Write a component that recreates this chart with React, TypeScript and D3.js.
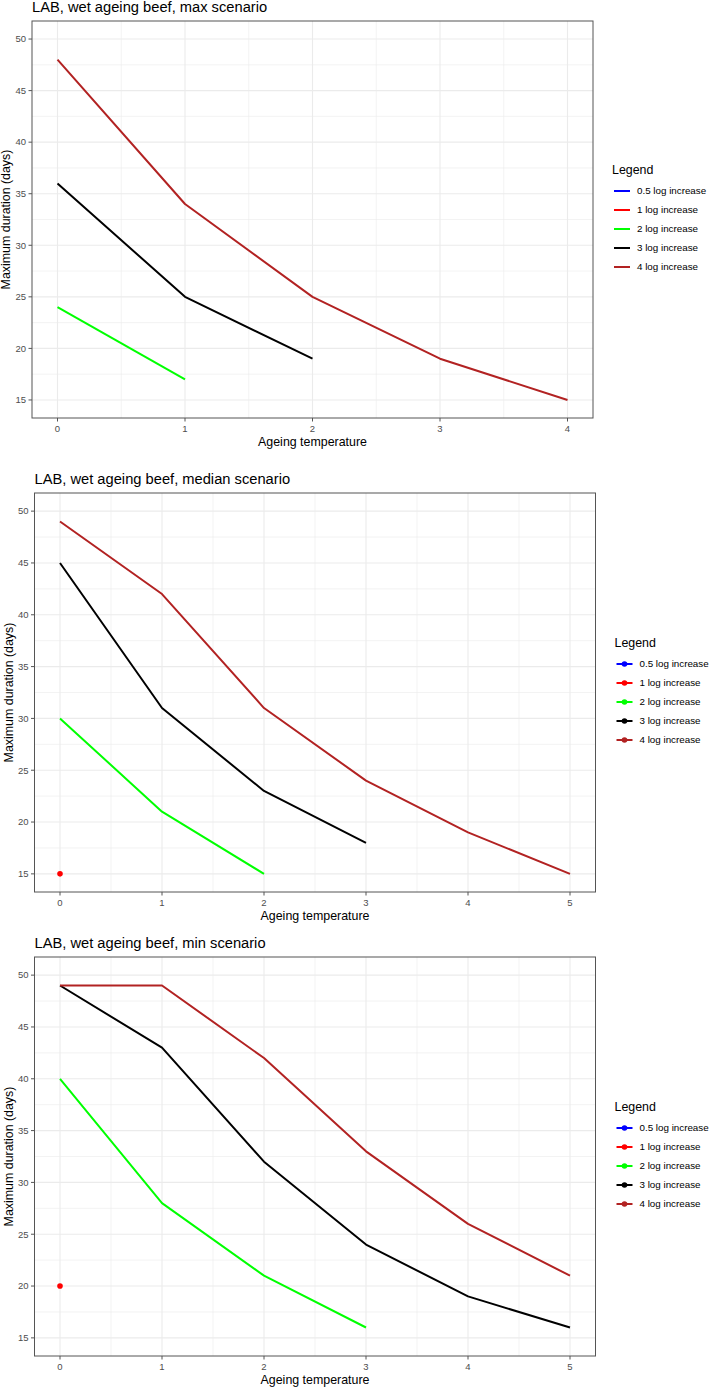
import React from 'react';
import * as d3 from 'd3';

// series names and colours, shared by all three panels
const seriesNames = ['0.5 log increase', '1 log increase', '2 log increase', '3 log increase', '4 log increase'];
const seriesColors = ['#0000FF', '#FF0000', '#00FF00', '#000000', '#B22222'];

// values by ageing temperature 0, 1, 2, ...
const maxLog05: number[] = [];
const maxLog1: number[] = [];
const maxLog2 = [24, 17];
const maxLog3 = [36, 25, 19];
const maxLog4 = [48, 34, 25, 19, 15];

const medianLog05: number[] = [];
const medianLog1 = [15];
const medianLog2 = [30, 21, 15];
const medianLog3 = [45, 31, 23, 18];
const medianLog4 = [49, 42, 31, 24, 19, 15];

const minLog05: number[] = [];
const minLog1 = [20];
const minLog2 = [40, 28, 21, 16];
const minLog3 = [49, 43, 32, 24, 19, 16];
const minLog4 = [49, 49, 42, 33, 26, 21];

const yTicks = [15, 20, 25, 30, 35, 40, 45, 50];

const FONT = '"Liberation Sans", Arial, sans-serif';

interface PanelProps {
  title: string;
  series: number[][];
  xMax: number;
  showPoints: boolean;
  left: number;
  right: number;
  top: number;
  bottom: number;
}

const Panel: React.FC<PanelProps> = ({ title, series, xMax, showPoints, left, right, top, bottom }) => {
  const xPad = xMax * 0.05;
  const x = d3.scaleLinear().domain([-xPad, xMax + xPad]).range([left, right]);
  const y = d3.scaleLinear().domain([13.25, 51.75]).range([bottom, top]);
  const xTicks = d3.range(0, xMax + 1);
  const xMinor = d3.range(0.5, xMax, 1);
  const yMinor = d3.range(17.5, 50, 5);
  const line = d3.line<number>().x((_, i) => x(i)).y(d => y(d));

  const midY = (top + bottom) / 2;
  const legendStart = midY + 9.5 - 2 * 19;

  return (
    <g>
      <text x={left} y={top - 9.5} fontSize="14.7px" fill="#000">{title}</text>

      {/* grid */}
      {xMinor.map(v => (
        <line key={`xm${v}`} x1={x(v)} x2={x(v)} y1={top} y2={bottom} stroke="#EBEBEB" strokeWidth={0.6} />
      ))}
      {yMinor.map(v => (
        <line key={`ym${v}`} x1={left} x2={right} y1={y(v)} y2={y(v)} stroke="#EBEBEB" strokeWidth={0.6} />
      ))}
      {xTicks.map(v => (
        <line key={`xg${v}`} x1={x(v)} x2={x(v)} y1={top} y2={bottom} stroke="#EBEBEB" strokeWidth={1.1} />
      ))}
      {yTicks.map(v => (
        <line key={`yg${v}`} x1={left} x2={right} y1={y(v)} y2={y(v)} stroke="#EBEBEB" strokeWidth={1.1} />
      ))}

      {/* lines */}
      {series.map((vals, i) =>
        vals.length > 1 ? (
          <path key={`l${i}`} d={line(vals) || ''} fill="none" stroke={seriesColors[i]} strokeWidth={2} strokeLinejoin="round" />
        ) : null
      )}
      {showPoints && series.map((vals, i) =>
        vals.length === 1 ? (
          <circle key={`p${i}`} cx={x(0)} cy={y(vals[0])} r={2.8} fill={seriesColors[i]} />
        ) : null
      )}

      {/* border */}
      <rect x={left} y={top} width={right - left} height={bottom - top} fill="none" stroke="#555" strokeWidth={1} />

      {/* x axis */}
      {xTicks.map(v => (
        <g key={`xt${v}`}>
          <line x1={x(v)} x2={x(v)} y1={bottom} y2={bottom + 3.5} stroke="#555" />
          <text x={x(v)} y={bottom + 14} textAnchor="middle" fontSize="9.5px" fill="#4D4D4D">{v}</text>
        </g>
      ))}
      <text x={(left + right) / 2} y={bottom + 28} textAnchor="middle" fontSize="12.4px" fill="#000">Ageing temperature</text>

      {/* y axis */}
      {yTicks.map(v => (
        <g key={`yt${v}`}>
          <line x1={left - 3.5} x2={left} y1={y(v)} y2={y(v)} stroke="#555" />
          <text x={left - 6} y={y(v)} dy="0.35em" textAnchor="end" fontSize="9.5px" fill="#4D4D4D">{v}</text>
        </g>
      ))}
      <text
        transform={`translate(${left - 22},${midY}) rotate(-90)`}
        textAnchor="middle"
        fontSize="12.4px"
        fill="#000"
      >
        Maximum duration (days)
      </text>

      {/* legend */}
      <text x={right + 19} y={legendStart - 21} dy="0.35em" fontSize="12.4px" fill="#000">Legend</text>
      {seriesNames.map((name, i) => {
        const ly = legendStart + i * 19;
        return (
          <g key={name}>
            <line x1={right + 21} x2={right + 37} y1={ly} y2={ly} stroke={seriesColors[i]} strokeWidth={2} />
            {showPoints && <circle cx={right + 29} cy={ly} r={2.8} fill={seriesColors[i]} />}
            <text x={right + 44} y={ly} dy="0.35em" fontSize="9.8px" fill="#000">{name}</text>
          </g>
        );
      })}
    </g>
  );
};

const App: React.FC = () => {
  return (
    <svg
      width={709}
      height={1387}
      style={{ position: 'absolute', left: 0, top: 0, background: '#fff' }}
      fontFamily={FONT}
    >
      <rect width={709} height={1387} fill="#fff" />
      <Panel
        title="LAB, wet ageing beef, max scenario"
        series={[maxLog05, maxLog1, maxLog2, maxLog3, maxLog4]}
        xMax={4}
        showPoints={false}
        left={32}
        right={593}
        top={21}
        bottom={418}
      />
      <Panel
        title="LAB, wet ageing beef, median scenario"
        series={[medianLog05, medianLog1, medianLog2, medianLog3, medianLog4]}
        xMax={5}
        showPoints={true}
        left={34.5}
        right={595.5}
        top={493}
        bottom={892}
      />
      <Panel
        title="LAB, wet ageing beef, min scenario"
        series={[minLog05, minLog1, minLog2, minLog3, minLog4]}
        xMax={5}
        showPoints={true}
        left={34.5}
        right={595.5}
        top={957}
        bottom={1356}
      />
    </svg>
  );
};

export default App;
